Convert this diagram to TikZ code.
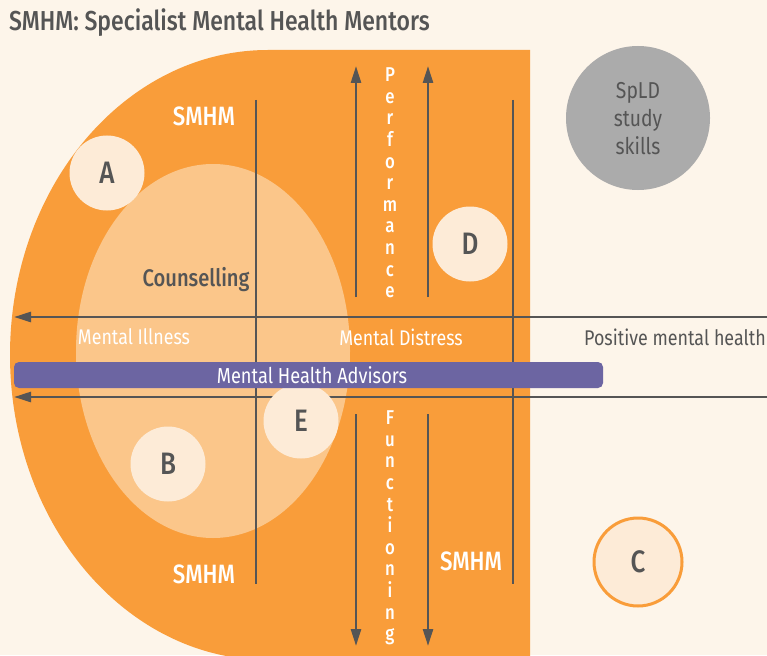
\documentclass[tikz,border=0pt]{standalone}
\usepackage{fontspec}
\setmainfont{Fira Sans}[FakeStretch=0.84]
\newfontfamily\medfont{Fira Sans Medium}[FakeStretch=0.84]
\usetikzlibrary{arrows.meta}
\definecolor{bg}{HTML}{FDF5EA}
\definecolor{orng}{HTML}{F99D3A}
\definecolor{lightor}{HTML}{FBC68A}
\definecolor{cream}{HTML}{FDEBD7}
\definecolor{ink}{HTML}{555555}
\definecolor{purp}{HTML}{6C65A2}
\definecolor{grayc}{HTML}{ABABAB}
\begin{document}
\begin{tikzpicture}[x=1pt,y=-1pt,
  axis/.style={draw=ink, line width=2.6pt},
  axarrow/.style={axis, -{Triangle[length=17pt,width=10pt]}},
  circ/.style={circle, fill=cream, minimum size=75pt, inner sep=0pt, text=ink,
    font=\medfont\fontsize{31}{34}\selectfont},
  wlabel/.style={text=white, font=\medfont\fontsize{26.5}{28}\selectfont, inner sep=0pt},
  zlabel/.style={text=white, font=\fontsize{21.2}{22}\selectfont, inner sep=0pt},
  vword/.style={text=white, align=center, inner sep=0pt, font=\medfont\fontsize{20}{21.6}\selectfont}]
\useasboundingbox (0,0) rectangle (767,655);
\fill[bg] (0,0) rectangle (767,655);
% orange half shape
\fill[orng] (530,50) -- (268,50) arc[start angle=270, end angle=90, x radius=258, y radius=305] -- (530,660) -- cycle;
% counselling ellipse
\fill[lightor] (213,351) ellipse[x radius=137, y radius=187];
% title
\node[anchor=west, text=ink, inner sep=0pt, font=\medfont\fontsize{27.4}{30}\selectfont] (title) at (9,23) {SMHM: Specialist Mental Health Mentors};
% circles
\node[circ] (A) at (107,173) {A};
\node[circ] (B) at (168,464) {B};
\node[circ] (D) at (470,244) {D};
% coordinates for axes
\coordinate (v1t) at (256,100); \coordinate (v1b) at (256,584);
\coordinate (v2t) at (513,100); \coordinate (v2b) at (513,584);
\coordinate (u1b) at (356,297); \coordinate (u1t) at (356,66);
\coordinate (u2b) at (428,297); \coordinate (u2t) at (428,66);
\coordinate (d1t) at (356,414); \coordinate (d1b) at (356,646);
\coordinate (d2t) at (428,414); \coordinate (d2b) at (428,646);
\coordinate (h1r) at (767,317); \coordinate (h1l) at (14,317);
\coordinate (h2r) at (767,397); \coordinate (h2l) at (14,397);
\draw[axis] (v1t) -- (v1b);
\draw[axis] (v2t) -- (v2b);
\draw[axarrow] (u1b) -- (u1t);
\draw[axarrow] (u2b) -- (u2t);
\draw[axarrow] (d1t) -- (d1b);
\draw[axarrow] (d2t) -- (d2b);
\draw[axarrow] (h1r) -- (h1l);
\draw[axarrow] (h2r) -- (h2l);
% E circle
\node[circ] (E) at (301,421) {E};
% Mental health advisors bar
\node[fill=purp, rounded corners=5pt, minimum width=589pt, minimum height=26pt, inner sep=0pt] (mha) at (308.5,375) {};
\node[text=white, inner sep=0pt, font=\fontsize{21.7}{24}\selectfont] (mhat) at (312,375) {Mental Health Advisors};
% labels
\node[wlabel] (s1) at (204,116) {SMHM};
\node[wlabel] (s2) at (204,574) {SMHM};
\node[wlabel] (s3) at (471,561) {SMHM};
\node[text=ink, inner sep=0pt, font=\medfont\fontsize{24}{26}\selectfont] (couns) at (196,280) {Counselling};
\node[zlabel] (mi) at (134,337) {Mental Illness};
\node[zlabel] (md) at (401,337) {Mental Distress};
\node[text=ink, inner sep=0pt, anchor=east, font=\fontsize{21.3}{24}\selectfont] (pmh) at (766,337) {Positive mental health};
\node[vword] (perf) at (390,183) {P\\e\\r\\f\\o\\r\\m\\a\\n\\c\\e};
\node[vword] (func) at (390,528) {F\\u\\n\\c\\t\\i\\o\\n\\i\\n\\g};
% SpLD circle
\node[circle, fill=grayc, minimum size=144pt, inner sep=0pt] (spld) at (638,118) {};
\node[text=ink, align=center, inner sep=0pt, font=\fontsize{23}{28}\selectfont] (spldt) at (638,119) {SpLD\\study\\skills};
% C circle
\node[circ, draw=orng, line width=3pt, minimum size=88pt] (C) at (638,562) {C};
\end{tikzpicture}
\end{document}
